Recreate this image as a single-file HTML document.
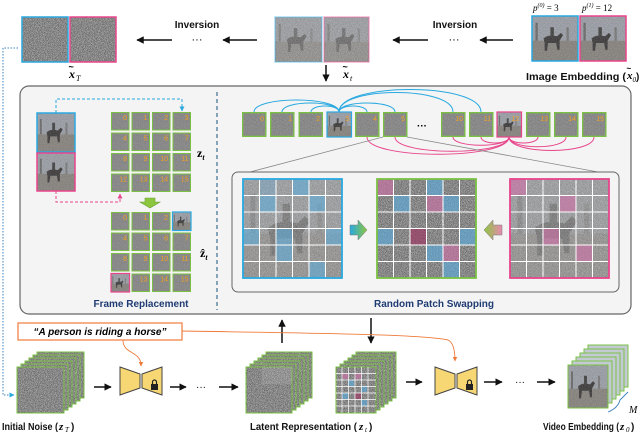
<!DOCTYPE html>
<html><head><meta charset="utf-8"><style>
html,body{margin:0;padding:0;background:#fff;}
svg{display:block;font-family:"Liberation Sans",sans-serif;}
.lb{font-weight:bold;font-size:10px;fill:#111;}
.num{font-size:7px;fill:#f0a020;text-anchor:end;}
</style></head><body>
<svg width="640" height="433" viewBox="0 0 640 433" xmlns="http://www.w3.org/2000/svg">
<defs>
<filter id="nz" x="0" y="0" width="1" height="1" color-interpolation-filters="sRGB"><feTurbulence type="fractalNoise" baseFrequency="1.3" numOctaves="2" seed="4"/><feColorMatrix type="matrix" values="0.7 0 0 0 0.18  0.7 0 0 0 0.18  0.7 0 0 0 0.18  0 0 0 0 1"/></filter>
<pattern id="np" width="80" height="80" patternUnits="userSpaceOnUse"><rect width="80" height="80" filter="url(#nz)"/></pattern>
<symbol id="ph" viewBox="0 0 40 40" preserveAspectRatio="none">
<rect width="40" height="40" fill="#a4a9b2"/><rect y="22" width="40" height="18" fill="#8b867f"/>
<rect x="3" y="6" width="2" height="16" fill="#666"/><rect x="30" y="10" width="2" height="12" fill="#777"/>
<path d="M10 20 Q14 16 22 18 L25 15 L27 17 L24 22 L24 30 L22 30 L21 24 L14 24 L13 31 L11 31 L11 24 Z" fill="#2d2a2a"/>
<rect x="16" y="10" width="3" height="8" fill="#333"/>
<rect width="40" height="40" fill="url(#np)" opacity="0.3"/></symbol>
<marker id="ah" viewBox="0 0 10 10" refX="9" refY="5" markerWidth="5" markerHeight="5" orient="auto"><path d="M0 0 L10 5 L0 10 z" fill="#111"/></marker>
<marker id="ao" viewBox="0 0 10 10" refX="9" refY="5" markerWidth="5" markerHeight="5" orient="auto"><path d="M0 0 L10 5 L0 10 z" fill="#f07a3a"/></marker>
<marker id="ab" viewBox="0 0 10 10" refX="9" refY="5" markerWidth="5" markerHeight="5" orient="auto"><path d="M0 0 L10 5 L0 10 z" fill="#29a9e0"/></marker>
<marker id="ap" viewBox="0 0 10 10" refX="9" refY="5" markerWidth="5" markerHeight="5" orient="auto"><path d="M0 0 L10 5 L0 10 z" fill="#e8458b"/></marker>
<symbol id="c" viewBox="0 0 20 20" preserveAspectRatio="none"><rect x="0.5" y="0.5" width="19" height="19" fill="#8a8a8a" stroke="#7ac143" stroke-width="1.2"/><rect x="1" y="1" width="18" height="18" fill="url(#np)" opacity="0.3"/></symbol>
<symbol id="unet" viewBox="0 0 44 30"><path d="M1 1 L21 8 L21 22 L1 29 Z M23 8 L43 1 L43 29 L23 22 Z" fill="#f7d774" stroke="#444" stroke-width="1"/><rect x="32" y="18" width="7" height="6" fill="#222"/><path d="M33.5 18 v-2 a2 2 0 0 1 4 0 v2" fill="none" stroke="#222" stroke-width="1.2"/></symbol>
</defs>

<!-- TOP ROW -->
<rect x="22" y="17" width="46" height="45" fill="url(#np)" stroke="#29a9e0" stroke-width="1.5"/>
<rect x="70" y="17" width="46" height="45" fill="url(#np)" stroke="#e8458b" stroke-width="1.5"/>
<text x="69" y="78" font-family="Liberation Serif" font-style="italic" font-weight="bold" font-size="12">x</text><text x="68.5" y="70" font-size="9" font-weight="bold">~</text><text x="76" y="81" font-family="Liberation Serif" font-style="italic" font-size="8">T</text>
<text x="197" y="28" class="lb" text-anchor="middle">Inversion</text>
<line x1="172" y1="40" x2="137" y2="40" stroke="#111" stroke-width="1.5" marker-end="url(#ah)"/>
<text x="197" y="43" font-size="11" text-anchor="middle">···</text>
<line x1="257" y1="40" x2="223" y2="40" stroke="#111" stroke-width="1.5" marker-end="url(#ah)"/>
<use href="#ph" x="275" y="17" width="47" height="45" opacity="0.8"/>
<rect x="275" y="17" width="47" height="45" fill="url(#np)" opacity="0.4" stroke="#29a9e0" stroke-width="1.5"/>
<use href="#ph" x="324" y="17" width="45" height="45" opacity="0.8"/>
<rect x="324" y="17" width="45" height="45" fill="url(#np)" opacity="0.4" stroke="#e8458b" stroke-width="1.5"/>
<line x1="326" y1="65" x2="326" y2="81" stroke="#111" stroke-width="1.5" marker-end="url(#ah)"/>
<text x="343" y="78" font-family="Liberation Serif" font-style="italic" font-weight="bold" font-size="12">x</text><text x="342.5" y="70" font-size="9" font-weight="bold">~</text><text x="350" y="81" font-family="Liberation Serif" font-style="italic" font-size="8">t</text>
<text x="455" y="28" class="lb" text-anchor="middle">Inversion</text>
<line x1="428" y1="40" x2="393" y2="40" stroke="#111" stroke-width="1.5" marker-end="url(#ah)"/>
<text x="454" y="43" font-size="11" text-anchor="middle">···</text>
<line x1="513" y1="40" x2="480" y2="40" stroke="#111" stroke-width="1.5" marker-end="url(#ah)"/>
<use href="#ph" x="532" y="16" width="46" height="45"/><rect x="532" y="16" width="46" height="45" fill="none" stroke="#29a9e0" stroke-width="1.5"/>
<use href="#ph" x="580" y="16" width="46" height="45"/><rect x="580" y="16" width="46" height="45" fill="none" stroke="#e8458b" stroke-width="1.5"/>
<text x="533" y="11" font-family="Liberation Serif" font-style="italic" font-size="9">p<tspan font-size="6" dy="-4">(0)</tspan><tspan dy="4" font-style="normal"> = 3</tspan></text>
<text x="582" y="11" font-family="Liberation Serif" font-style="italic" font-size="9">p<tspan font-size="6" dy="-4">(1)</tspan><tspan dy="4" font-style="normal"> = 12</tspan></text>
<text x="526" y="80" class="lb" textLength="100" lengthAdjust="spacingAndGlyphs">Image Embedding (</text>
<text x="627" y="79" font-family="Liberation Serif" font-style="italic" font-weight="bold" font-size="11">x</text><text x="626.5" y="71" font-size="8" font-weight="bold">~</text><text x="632.5" y="82" font-family="Liberation Serif" font-style="italic" font-size="7">0</text><text x="636" y="80" class="lb">)</text>

<path d="M18 48 H3 V395 H14" fill="none" stroke="#3a7fc0" stroke-width="1" stroke-dasharray="1.5 1.5" marker-end="url(#ab)"/>

<!-- PANEL -->
<rect x="20" y="86" width="611" height="228" rx="9" fill="#f4f4f4" stroke="#666" stroke-width="1.2"/>
<line x1="217" y1="92" x2="217" y2="310" stroke="#3d6f8f" stroke-width="1.2" stroke-dasharray="4 3"/>
<use href="#ph" x="37" y="113" width="38" height="39"/><rect x="37" y="113" width="38" height="39" fill="none" stroke="#29a9e0" stroke-width="1.5"/>
<use href="#ph" x="37" y="153" width="38" height="38"/><rect x="37" y="153" width="38" height="38" fill="none" stroke="#e8458b" stroke-width="1.5"/>
<path d="M56 113 V99 H182 V111" fill="none" stroke="#29a9e0" stroke-width="1" stroke-dasharray="3 2" marker-end="url(#ab)"/>
<path d="M56 191 V202 H120 V194" fill="none" stroke="#e8458b" stroke-width="1" stroke-dasharray="3 2" marker-end="url(#ap)"/>
<g>
<use href="#c" x="111" y="112" width="18.5" height="18.5"/><use href="#c" x="131.5" y="112" width="18.5" height="18.5"/><use href="#c" x="152" y="112" width="18.5" height="18.5"/><use href="#c" x="172.5" y="112" width="18.5" height="18.5"/>
<use href="#c" x="111" y="132.5" width="18.5" height="18.5"/><use href="#c" x="131.5" y="132.5" width="18.5" height="18.5"/><use href="#c" x="152" y="132.5" width="18.5" height="18.5"/><use href="#c" x="172.5" y="132.5" width="18.5" height="18.5"/>
<use href="#c" x="111" y="153" width="18.5" height="18.5"/><use href="#c" x="131.5" y="153" width="18.5" height="18.5"/><use href="#c" x="152" y="153" width="18.5" height="18.5"/><use href="#c" x="172.5" y="153" width="18.5" height="18.5"/>
<use href="#c" x="111" y="173.5" width="18.5" height="18.5"/><use href="#c" x="131.5" y="173.5" width="18.5" height="18.5"/><use href="#c" x="152" y="173.5" width="18.5" height="18.5"/><use href="#c" x="172.5" y="173.5" width="18.5" height="18.5"/>
<text class="num" x="127" y="120">0</text><text class="num" x="147.5" y="120">1</text><text class="num" x="168" y="120">2</text><text class="num" x="188.5" y="120">3</text>
<text class="num" x="127" y="140.5">4</text><text class="num" x="147.5" y="140.5">5</text><text class="num" x="168" y="140.5">6</text><text class="num" x="188.5" y="140.5">7</text>
<text class="num" x="127" y="161">8</text><text class="num" x="147.5" y="161">9</text><text class="num" x="168" y="161">10</text><text class="num" x="188.5" y="161">11</text>
<text class="num" x="127" y="181.5">12</text><text class="num" x="147.5" y="181.5">13</text><text class="num" x="168" y="181.5">14</text><text class="num" x="188.5" y="181.5">15</text>
</g>
<text x="197" y="157" font-family="Liberation Serif" font-weight="bold" font-size="12">z<tspan font-size="8" dy="3" font-style="italic">t</tspan></text>
<path d="M145 198 H155 V202 H160 L150 208 L140 202 H145 Z" fill="#8cc63f" stroke="#6aa12e" stroke-width="0.6"/>
<g>
<use href="#c" x="111" y="212" width="18.5" height="18.5"/><use href="#c" x="131.5" y="212" width="18.5" height="18.5"/><use href="#c" x="152" y="212" width="18.5" height="18.5"/>
<use href="#ph" x="172.5" y="212" width="18.5" height="18.5"/><rect x="172.5" y="212" width="18.5" height="18.5" fill="none" stroke="#29a9e0" stroke-width="1.2"/>
<use href="#c" x="111" y="232.5" width="18.5" height="18.5"/><use href="#c" x="131.5" y="232.5" width="18.5" height="18.5"/><use href="#c" x="152" y="232.5" width="18.5" height="18.5"/><use href="#c" x="172.5" y="232.5" width="18.5" height="18.5"/>
<use href="#c" x="111" y="253" width="18.5" height="18.5"/><use href="#c" x="131.5" y="253" width="18.5" height="18.5"/><use href="#c" x="152" y="253" width="18.5" height="18.5"/><use href="#c" x="172.5" y="253" width="18.5" height="18.5"/>
<use href="#ph" x="111" y="273.5" width="18.5" height="18.5"/><rect x="111" y="273.5" width="18.5" height="18.5" fill="none" stroke="#e8458b" stroke-width="1.2"/>
<use href="#c" x="131.5" y="273.5" width="18.5" height="18.5"/><use href="#c" x="152" y="273.5" width="18.5" height="18.5"/><use href="#c" x="172.5" y="273.5" width="18.5" height="18.5"/>
<text class="num" x="127" y="220">0</text><text class="num" x="147.5" y="220">1</text><text class="num" x="168" y="220">2</text>
<text class="num" x="127" y="240.5">4</text><text class="num" x="147.5" y="240.5">5</text><text class="num" x="168" y="240.5">6</text><text class="num" x="188.5" y="240.5">7</text>
<text class="num" x="127" y="261">8</text><text class="num" x="147.5" y="261">9</text><text class="num" x="168" y="261">10</text><text class="num" x="188.5" y="261">11</text>
<text class="num" x="147.5" y="281.5">13</text><text class="num" x="168" y="281.5">14</text><text class="num" x="188.5" y="281.5">15</text>
</g>
<text x="200" y="257" font-family="Liberation Serif" font-weight="bold" font-size="12">ẑ<tspan font-size="8" dy="3" font-style="italic">t</tspan></text>
<text x="141" y="307" font-weight="bold" font-size="10" fill="#1f3b73" text-anchor="middle">Frame Replacement</text>

<g fill="none" stroke="#29a9e0" stroke-width="1">
<path d="M339 112 C339 96,254 96,254 112"/><path d="M339 112 C339 100,282 100,282 112"/><path d="M339 112 C339 104,311 104,311 112"/>
<path d="M339 112 C339 104,367 104,367 112"/><path d="M339 112 C339 100,395 100,395 112"/>
<path d="M339 112 C339 86,453 86,453 112"/><path d="M339 112 C339 82,481 82,481 112"/>
</g>
<g fill="none" stroke="#e8458b" stroke-width="1">
<path d="M509 137 C509 160,367 160,367 137"/><path d="M509 137 C509 156,395 156,395 137"/>
<path d="M509 137 C509 148,453 148,453 137"/><path d="M509 137 C509 145,481 145,481 137"/>
<path d="M509 137 C509 145,538 145,538 137"/><path d="M509 137 C509 150,566 150,566 137"/><path d="M509 137 C509 155,594 155,594 137"/>
</g>
<g>
<use href="#c" x="242" y="112" width="24.5" height="25"/><use href="#c" x="270" y="112" width="24.5" height="25"/><use href="#c" x="298.5" y="112" width="24.5" height="25"/>
<use href="#ph" x="327" y="112" width="24.5" height="25"/><rect x="327" y="112" width="24.5" height="25" fill="none" stroke="#29a9e0" stroke-width="1.2"/>
<use href="#c" x="355" y="112" width="24.5" height="25"/><use href="#c" x="383" y="112" width="24.5" height="25"/>
<use href="#c" x="441" y="112" width="24.5" height="25"/><use href="#c" x="469" y="112" width="24.5" height="25"/>
<use href="#ph" x="497" y="112" width="24.5" height="25"/><rect x="497" y="112" width="24.5" height="25" fill="none" stroke="#e8458b" stroke-width="1.2"/>
<use href="#c" x="526" y="112" width="24.5" height="25"/><use href="#c" x="554" y="112" width="24.5" height="25"/><use href="#c" x="582" y="112" width="24.5" height="25"/>
<text class="num" x="264" y="121">0</text><text class="num" x="292" y="121">1</text><text class="num" x="320" y="121">2</text><text class="num" x="349" y="121">3</text>
<text class="num" x="377" y="121">4</text><text class="num" x="405" y="121">5</text>
<text class="num" x="463" y="121">10</text><text class="num" x="491" y="121">11</text><text class="num" x="519" y="121">12</text>
<text class="num" x="548" y="121">13</text><text class="num" x="576" y="121">14</text><text class="num" x="604" y="121">15</text>
</g>
<text x="422" y="129" font-size="10" font-weight="bold" text-anchor="middle">···</text>
<line x1="383" y1="137" x2="250" y2="172" stroke="#888" stroke-width="0.8"/>
<line x1="407" y1="137" x2="598" y2="172" stroke="#888" stroke-width="0.8"/>
<rect x="232" y="172" width="387" height="120" rx="6" fill="#f4f4f4" stroke="#666" stroke-width="1"/>

<g>
<use href="#ph" x="243" y="179" width="99" height="99" opacity="0.7"/>
<rect x="243" y="179" width="99" height="99" fill="url(#np)" opacity="0.5"/>
<g fill="#5aaee0" opacity="0.55">
<rect x="292.5" y="179" width="16.5" height="16.5"/><rect x="259.5" y="195.5" width="16.5" height="16.5"/><rect x="309" y="195.5" width="16.5" height="16.5"/>
<rect x="243" y="228.5" width="16.5" height="16.5"/><rect x="276" y="228.5" width="16.5" height="16.5"/><rect x="325.5" y="228.5" width="16.5" height="16.5"/>
<rect x="276" y="245" width="16.5" height="16.5"/><rect x="309" y="261.5" width="16.5" height="16.5"/><rect x="259.5" y="179" width="16.5" height="16.5" opacity="0.5"/>
</g>
<path d="M259.5 179V278M276 179V278M292.5 179V278M309 179V278M325.5 179V278M243 195.5H342M243 212H342M243 228.5H342M243 245H342M243 261.5H342" stroke="#fff" stroke-width="1"/>
<rect x="243" y="179" width="99" height="99" fill="none" stroke="#29a9e0" stroke-width="1.8"/>

<rect x="377" y="179" width="99" height="99" fill="url(#np)"/>
<g opacity="0.6">
<rect x="377" y="179" width="16.5" height="16.5" fill="#d070a8"/><rect x="426.5" y="195.5" width="16.5" height="16.5" fill="#d070a8"/><rect x="410" y="228.5" width="16.5" height="16.5" fill="#a03060"/><rect x="443" y="245" width="16.5" height="16.5" fill="#d070a8"/>
<rect x="426.5" y="179" width="16.5" height="16.5" fill="#5aaee0"/><rect x="393.5" y="195.5" width="16.5" height="16.5" fill="#5aaee0"/><rect x="443" y="195.5" width="16.5" height="16.5" fill="#5aaee0"/>
<rect x="377" y="228.5" width="16.5" height="16.5" fill="#5aaee0"/><rect x="459.5" y="228.5" width="16.5" height="16.5" fill="#5aaee0"/><rect x="426.5" y="245" width="16.5" height="16.5" fill="#5aaee0"/><rect x="443" y="261.5" width="16.5" height="16.5" fill="#5aaee0"/>
</g>
<path d="M393.5 179V278M410 179V278M426.5 179V278M443 179V278M459.5 179V278M377 195.5H476M377 212H476M377 228.5H476M377 245H476M377 261.5H476" stroke="#fff" stroke-width="1"/>
<rect x="377" y="179" width="99" height="99" fill="none" stroke="#7ac143" stroke-width="1.8"/>

<use href="#ph" x="510" y="179" width="99" height="99" opacity="0.7"/>
<rect x="510" y="179" width="99" height="99" fill="url(#np)" opacity="0.5"/>
<g fill="#d070a8" opacity="0.6">
<rect x="510" y="179" width="16.5" height="16.5"/><rect x="559.5" y="195.5" width="16.5" height="16.5"/><rect x="543" y="228.5" width="16.5" height="16.5"/><rect x="576" y="245" width="16.5" height="16.5"/>
</g>
<path d="M526.5 179V278M543 179V278M559.5 179V278M576 179V278M592.5 179V278M510 195.5H609M510 212H609M510 228.5H609M510 245H609M510 261.5H609" stroke="#fff" stroke-width="1"/>
<rect x="510" y="179" width="99" height="99" fill="none" stroke="#e8458b" stroke-width="1.8"/>
</g>
<defs><linearGradient id="g1"><stop offset="0" stop-color="#29a9e0"/><stop offset="1" stop-color="#8cc63f"/></linearGradient><linearGradient id="g2"><stop offset="0" stop-color="#8cc63f"/><stop offset="1" stop-color="#e88ab0"/></linearGradient></defs>
<path d="M350 225 H358 V220 L367 230 L358 240 V235 H350 Z" fill="url(#g1)" stroke="#777" stroke-width="0.5"/>
<path d="M502 225 H493 V220 L484 230 L493 240 V235 H502 Z" fill="url(#g2)" stroke="#777" stroke-width="0.5"/>
<text x="434" y="307" font-weight="bold" font-size="10" fill="#1f3b73" text-anchor="middle">Random Patch Swapping</text>

<!-- BOTTOM -->
<line x1="282" y1="343" x2="282" y2="320" stroke="#111" stroke-width="1.5" marker-end="url(#ah)"/>
<line x1="371" y1="318" x2="371" y2="343" stroke="#111" stroke-width="1.5" marker-end="url(#ah)"/>
<path d="M182 331 C300 333,420 334,448 340 Q455 343,455 361" fill="none" stroke="#f07a3a" stroke-width="0.9" marker-end="url(#ao)"/>
<path d="M123 340 C123 355,141 350,141 366" fill="none" stroke="#f07a3a" stroke-width="0.9" marker-end="url(#ao)"/>
<rect x="18" y="323" width="164" height="17" fill="#fff" stroke="#f07a3a" stroke-width="1.2"/>
<text x="100" y="335" text-anchor="middle" font-weight="bold" font-style="italic" font-size="10">“A person is riding a horse”</text>

<g stroke="#7ac143" stroke-width="1">
<rect x="37" y="352" width="47" height="46" fill="url(#np)"/><rect x="33" y="355" width="47" height="46" fill="url(#np)"/><rect x="29" y="358" width="47" height="46" fill="url(#np)"/><rect x="25" y="361" width="47" height="46" fill="url(#np)"/><rect x="21" y="364" width="47" height="46" fill="url(#np)"/><rect x="17" y="367" width="47" height="46" fill="url(#np)"/>
</g>
<line x1="94" y1="387" x2="111" y2="387" stroke="#111" stroke-width="1.5" marker-end="url(#ah)"/>
<use href="#unet" x="119" y="366" width="44" height="30"/>
<line x1="170" y1="387" x2="186" y2="387" stroke="#111" stroke-width="1.5" marker-end="url(#ah)"/>
<text x="201" y="390" font-size="10" text-anchor="middle">···</text>
<line x1="219" y1="387" x2="238" y2="387" stroke="#111" stroke-width="1.5" marker-end="url(#ah)"/>
<g stroke="#7ac143" stroke-width="1">
<rect x="266" y="352" width="46" height="46" fill="url(#np)"/><rect x="262" y="355" width="46" height="46" fill="url(#np)"/><rect x="258" y="358" width="46" height="46" fill="url(#np)"/><rect x="254" y="361" width="46" height="46" fill="url(#np)"/><rect x="250" y="364" width="46" height="46" fill="url(#np)"/><rect x="246" y="367" width="46" height="46" fill="url(#np)"/>
</g>
<rect x="262" y="367" width="30" height="17" fill="#bbb" opacity="0.25"/>
<g stroke="#7ac143" stroke-width="1">
<rect x="356" y="352" width="40" height="46" fill="url(#np)"/><rect x="352" y="355" width="40" height="46" fill="url(#np)"/><rect x="348" y="358" width="40" height="46" fill="url(#np)"/><rect x="344" y="361" width="40" height="46" fill="url(#np)"/><rect x="340" y="364" width="40" height="46" fill="url(#np)"/><rect x="336" y="367" width="40" height="46" fill="url(#np)"/>
</g>
<g opacity="0.6"><rect x="342" y="373" width="6" height="6" fill="#d070a8"/><rect x="355" y="373" width="6" height="6" fill="#d070a8"/><rect x="348" y="380" width="6" height="6" fill="#5aaee0"/><rect x="361" y="386" width="6" height="6" fill="#5aaee0"/><rect x="342" y="393" width="6" height="6" fill="#5aaee0"/><rect x="355" y="393" width="6" height="6" fill="#a03060"/><rect x="361" y="400" width="6" height="6" fill="#5aaee0"/></g>
<path d="M342 367V413M348.5 367V413M355 367V413M361.5 367V413M368 367V413M336 373.5H376M336 380H376M336 386.5H376M336 393H376M336 399.5H376M336 406H376" stroke="#fff" stroke-width="0.7"/>
<line x1="406" y1="382" x2="422" y2="382" stroke="#111" stroke-width="1.5" marker-end="url(#ah)"/>
<use href="#unet" x="434" y="366" width="44" height="30"/>
<line x1="484" y1="382" x2="502" y2="382" stroke="#111" stroke-width="1.5" marker-end="url(#ah)"/>
<text x="520" y="385" font-size="10" text-anchor="middle">···</text>
<line x1="537" y1="382" x2="555" y2="382" stroke="#111" stroke-width="1.5" marker-end="url(#ah)"/>
<g stroke="#7ac143" stroke-width="1">
<rect x="588" y="345" width="40" height="42" fill="#c4cad4"/><rect x="584" y="349" width="40" height="42" fill="#c4cad4"/><rect x="580" y="353" width="40" height="42" fill="#c4cad4"/><rect x="576" y="357" width="40" height="42" fill="#c4cad4"/><rect x="572" y="361" width="40" height="42" fill="#c4cad4"/>
</g>
<use href="#ph" x="568" y="365" width="40" height="43"/><rect x="568" y="365" width="40" height="43" fill="none" stroke="#7ac143" stroke-width="1"/>
<path d="M608 412 Q618 408,620 400 Q622 398,628 392" fill="none" stroke="#3a7fc0" stroke-width="0.9"/>
<text x="629" y="413" font-family="Liberation Serif" font-style="italic" font-size="10">M</text>

<text x="2" y="430" class="lb" textLength="56" lengthAdjust="spacingAndGlyphs">Initial Noise (</text><text x="59" y="430" font-family="Liberation Serif" font-style="italic" font-weight="bold" font-size="11">z</text><text x="65" y="432" font-family="Liberation Serif" font-style="italic" font-size="7">T</text><text x="71" y="430" class="lb">)</text>
<text x="250" y="430" class="lb" textLength="107" lengthAdjust="spacingAndGlyphs">Latent Representation (</text><text x="359" y="430" font-family="Liberation Serif" font-style="italic" font-weight="bold" font-size="11">z</text><text x="365" y="432" font-family="Liberation Serif" font-style="italic" font-size="7">t</text><text x="369" y="430" class="lb">)</text>
<text x="543" y="430" class="lb" textLength="76" lengthAdjust="spacingAndGlyphs">Video Embedding (</text><text x="620" y="430" font-family="Liberation Serif" font-style="italic" font-weight="bold" font-size="11">z</text><text x="626" y="432" font-family="Liberation Serif" font-style="italic" font-size="7">0</text><text x="631" y="430" class="lb">)</text>
</svg>
</body></html>
